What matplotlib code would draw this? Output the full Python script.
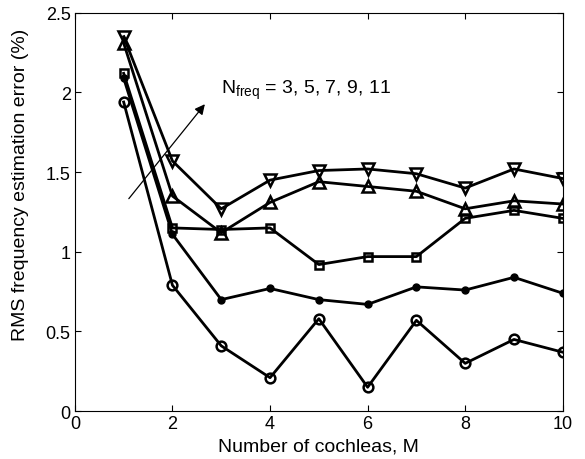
import matplotlib
matplotlib.use("Agg")
import matplotlib.pyplot as plt

# number of cochleas
M = [1, 2, 3, 4, 5, 6, 7, 8, 9, 10]

# RMS error (%) for each N_freq
err_3 = [1.94, 0.79, 0.41, 0.21, 0.58, 0.15, 0.57, 0.30, 0.45, 0.37]
err_5 = [2.09, 1.11, 0.70, 0.77, 0.70, 0.67, 0.78, 0.76, 0.84, 0.74]
err_7 = [2.12, 1.15, 1.14, 1.15, 0.92, 0.97, 0.97, 1.21, 1.26, 1.21]
err_9 = [2.31, 1.35, 1.12, 1.31, 1.44, 1.41, 1.38, 1.27, 1.32, 1.30]
err_11 = [2.35, 1.57, 1.27, 1.45, 1.51, 1.52, 1.49, 1.40, 1.52, 1.46]

plt.rcParams['font.family'] = ['Liberation Sans', 'DejaVu Sans']
plt.rcParams['mathtext.fontset'] = 'custom'
plt.rcParams['mathtext.rm'] = 'Liberation Sans'

fig = plt.figure(figsize=(5.85, 4.6), dpi=100)
ax = fig.add_axes([0.128, 0.104, 0.834, 0.866])

kw = dict(color='black', linewidth=2, markerfacecolor='none', markeredgewidth=1.8)
ax.plot(M, err_3, marker='o', markersize=7, **kw)
ax.plot(M, err_5, marker='o', markersize=5, color='black', linewidth=2)
ax.plot(M, err_7, marker='s', markersize=6, **kw)
ax.plot(M, err_9, marker='^', markersize=8, **kw)
ax.plot(M, err_11, marker='v', markersize=8, **kw)

ax.annotate('', xy=(2.7, 1.94), xytext=(1.07, 1.32),
            arrowprops=dict(arrowstyle='-|>', color='black', lw=0.9, mutation_scale=15))
ax.text(3.0, 2.02, r'N$_{\mathrm{freq}}$ = 3, 5, 7, 9, 11', fontsize=14, va='center')

ax.set_xlim(0, 10)
ax.set_ylim(0, 2.5)
ax.set_xticks([0, 2, 4, 6, 8, 10])
ax.set_yticks([0, 0.5, 1, 1.5, 2, 2.5])
ax.set_yticklabels(['0', '0.5', '1', '1.5', '2', '2.5'])
ax.tick_params(direction='in', labelsize=13, top=True, right=True, length=4, pad=3)
ax.set_xlabel('Number of cochleas, M', fontsize=14, labelpad=4)
ax.set_ylabel('RMS frequency estimation error (%)', fontsize=14)
ax.yaxis.set_label_coords(-0.094, 0.57)

fig.savefig('out.png', dpi=100)
